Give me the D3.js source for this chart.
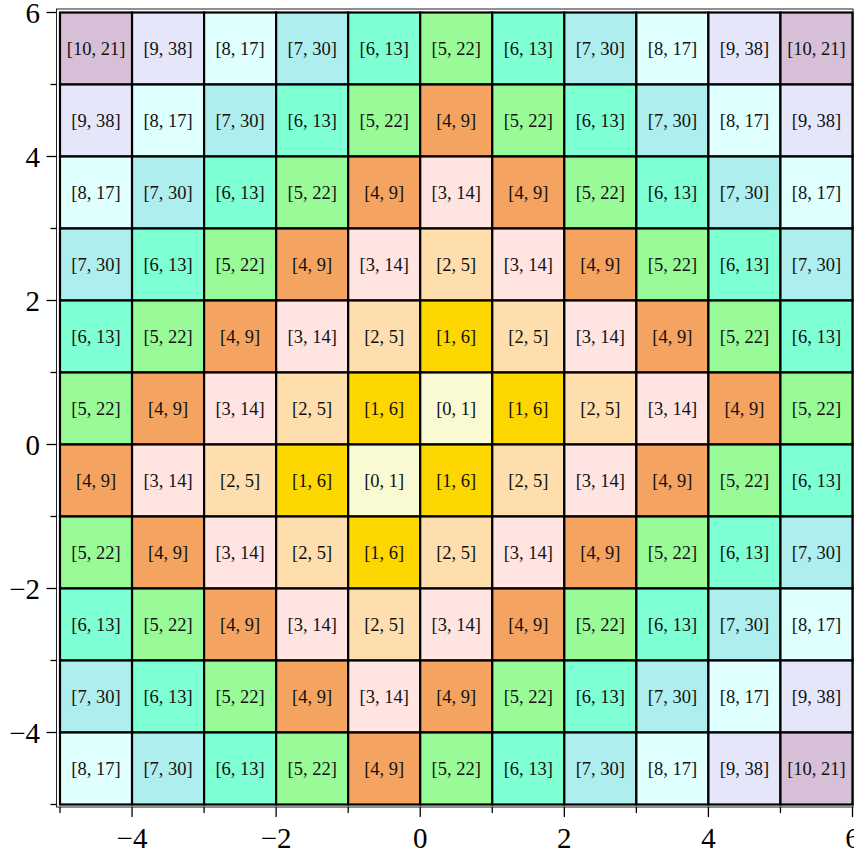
<!DOCTYPE html>
<html>
<head>
<meta charset="utf-8">
<script src="https://cdn.jsdelivr.net/npm/d3@7"></script>
<style>
  html, body { margin: 0; padding: 0; background: #fff; }
  svg text { font-family: "Liberation Serif", "Times New Roman", serif; }
</style>
</head>
<body>
<svg id="chart" width="854" height="856"></svg>
<script>
// ring index of each cell, rows listed from top (y 5..6) to bottom (y -5..-4)
const gridRows = [
  [10, 9, 8, 7, 6, 5, 6, 7, 8, 9, 10],
  [9, 8, 7, 6, 5, 4, 5, 6, 7, 8, 9],
  [8, 7, 6, 5, 4, 3, 4, 5, 6, 7, 8],
  [7, 6, 5, 4, 3, 2, 3, 4, 5, 6, 7],
  [6, 5, 4, 3, 2, 1, 2, 3, 4, 5, 6],
  [5, 4, 3, 2, 1, 0, 1, 2, 3, 4, 5],
  [4, 3, 2, 1, 0, 1, 2, 3, 4, 5, 6],
  [5, 4, 3, 2, 1, 2, 3, 4, 5, 6, 7],
  [6, 5, 4, 3, 2, 3, 4, 5, 6, 7, 8],
  [7, 6, 5, 4, 3, 4, 5, 6, 7, 8, 9],
  [8, 7, 6, 5, 4, 5, 6, 7, 8, 9, 10]
];
// second number of the label for each ring index 0..10
const ringCounts = [1, 6, 5, 14, 9, 22, 13, 30, 17, 38, 21];
const ringColors = ['#FAFAD2', '#FFD700', '#FFDEAD', '#FFE4E1', '#F4A460', '#98FB98',
                    '#7FFFD4', '#AFEEEE', '#E0FFFF', '#E6E6FA', '#D8BFD8'];
// lower-left corner of the cells
const cellX = [-5, -4, -3, -2, -1, 0, 1, 2, 3, 4, 5];
const cellY = [5, 4, 3, 2, 1, 0, -1, -2, -3, -4, -5];
const majorTicks = [-4, -2, 0, 2, 4, 6];
const minorTicks = [-5, -3, -1, 1, 3, 5];

const svg = d3.select('#chart');
const x = d3.scaleLinear().domain([-5, 6]).range([60, 852.5]);
const y = d3.scaleLinear().domain([-5, 6]).range([804.5, 12.5]);

const cells = [];
gridRows.forEach((row, r) => {
  row.forEach((k, c) => {
    cells.push({x0: cellX[c], y0: cellY[r], k: k});
  });
});

// frame box, a little outside the data range
const pad = 3;
const frame = {
  left: x(-5) - pad - 0.5,
  right: x(6) + 0.5,
  top: y(6) - pad - 0.5,
  bottom: y(-5) + pad - 0.5
};

svg.append('rect')
    .attr('x', frame.left)
    .attr('y', frame.top)
    .attr('width', frame.right - frame.left)
    .attr('height', frame.bottom - frame.top)
    .attr('fill', 'none')
    .attr('stroke', '#222')
    .attr('stroke-width', 1);

const g = svg.append('g').attr('class', 'cells');

g.selectAll('rect')
    .data(cells)
    .enter()
    .append('rect')
    .attr('x', (d) => x(d.x0))
    .attr('y', (d) => y(d.y0 + 1))
    .attr('width', (d) => x(d.x0 + 1) - x(d.x0))
    .attr('height', (d) => y(d.y0) - y(d.y0 + 1))
    .attr('fill', (d) => ringColors[d.k])
    .attr('stroke', '#000')
    .attr('stroke-width', 2.2);

g.selectAll('text')
    .data(cells)
    .enter()
    .append('text')
    .attr('x', (d) => x(d.x0 + 0.5))
    .attr('y', (d) => y(d.y0 + 0.5) + 6)
    .attr('text-anchor', 'middle')
    .attr('font-size', 18.5)
    .attr('fill', '#111')
    .text((d) => '[' + d.k + ', ' + ringCounts[d.k] + ']');

// x axis ticks below the frame
const xAxis = svg.append('g').attr('class', 'x-axis');
xAxis.selectAll('line.major')
    .data(majorTicks)
    .enter()
    .append('line')
    .attr('class', 'major')
    .attr('x1', (d) => x(d)).attr('x2', (d) => x(d))
    .attr('y1', frame.bottom).attr('y2', frame.bottom + 10)
    .attr('stroke', '#000').attr('stroke-width', 1.3);
xAxis.selectAll('line.minor')
    .data(minorTicks)
    .enter()
    .append('line')
    .attr('class', 'minor')
    .attr('x1', (d) => x(d)).attr('x2', (d) => x(d))
    .attr('y1', frame.bottom).attr('y2', frame.bottom + 6)
    .attr('stroke', '#000').attr('stroke-width', 1.3);
xAxis.selectAll('text')
    .data(majorTicks)
    .enter()
    .append('text')
    .attr('x', (d) => x(d))
    .attr('y', 848)
    .attr('text-anchor', 'middle')
    .attr('font-size', 29)
    .text((d) => d < 0 ? '\u2212' + Math.abs(d) : d);

// y axis ticks left of the frame
const yAxis = svg.append('g').attr('class', 'y-axis');
yAxis.selectAll('line.major')
    .data(majorTicks)
    .enter()
    .append('line')
    .attr('class', 'major')
    .attr('y1', (d) => y(d)).attr('y2', (d) => y(d))
    .attr('x1', frame.left - 10).attr('x2', frame.left)
    .attr('stroke', '#000').attr('stroke-width', 1.3);
yAxis.selectAll('line.minor')
    .data(minorTicks)
    .enter()
    .append('line')
    .attr('class', 'minor')
    .attr('y1', (d) => y(d)).attr('y2', (d) => y(d))
    .attr('x1', frame.left - 6).attr('x2', frame.left)
    .attr('stroke', '#000').attr('stroke-width', 1.3);
yAxis.selectAll('text')
    .data(majorTicks)
    .enter()
    .append('text')
    .attr('x', 40)
    .attr('y', (d) => y(d) + 10)
    .attr('text-anchor', 'end')
    .attr('font-size', 29)
    .text((d) => d < 0 ? '\u2212' + Math.abs(d) : d);
</script>
</body>
</html>
